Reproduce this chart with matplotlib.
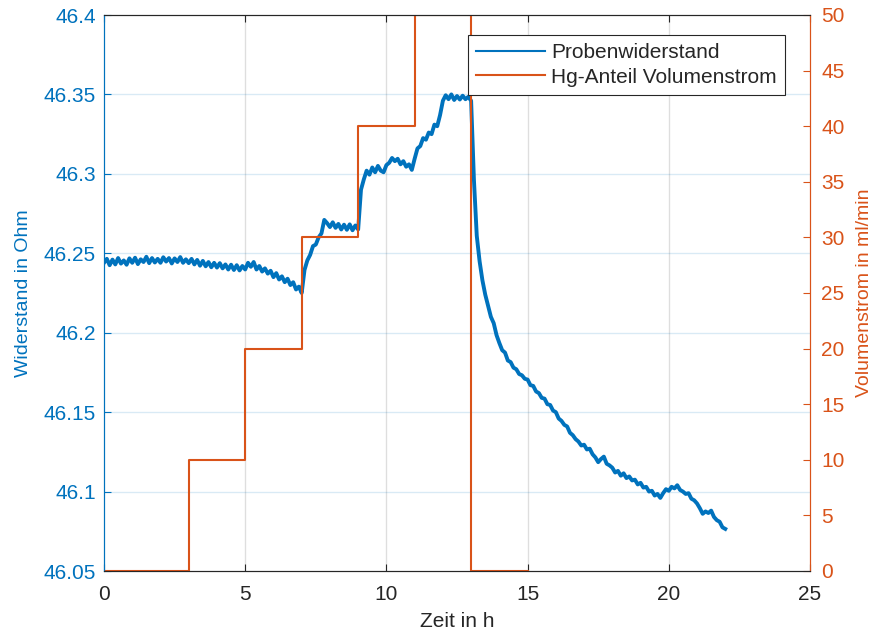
import numpy as np
import matplotlib
matplotlib.use("Agg")
import matplotlib.pyplot as plt

plt.rcParams['font.family'] = ['Liberation Sans', 'DejaVu Sans']

# Probenwiderstand (Ohm), sampled every 0.1 h from 0 to 22 h
resistance = [
    46.2440, 46.2465, 46.2425, 46.2460, 46.2430, 46.2470, 46.2435, 46.2455, 46.2428, 46.2468,
    46.2440, 46.2472, 46.2432, 46.2462, 46.2445, 46.2478, 46.2438, 46.2470, 46.2442, 46.2465,
    46.2440, 46.2475, 46.2448, 46.2470, 46.2436, 46.2468, 46.2445, 46.2476, 46.2440, 46.2462,
    46.2438, 46.2465, 46.2430, 46.2458, 46.2422, 46.2452, 46.2418, 46.2445, 46.2412, 46.2440,
    46.2410, 46.2438, 46.2405, 46.2430, 46.2398, 46.2428, 46.2395, 46.2425, 46.2392, 46.2420,
    46.2398, 46.2440, 46.2415, 46.2445, 46.2398, 46.2420, 46.2385, 46.2405, 46.2372, 46.2390,
    46.2350, 46.2375, 46.2335, 46.2355, 46.2318, 46.2340, 46.2300, 46.2318, 46.2272, 46.2290,
    46.2250, 46.2395, 46.2455, 46.2490, 46.2545, 46.2555, 46.2600, 46.2625, 46.2710, 46.2690,
    46.2665, 46.2695, 46.2660, 46.2685, 46.2650, 46.2680, 46.2648, 46.2682, 46.2645, 46.2675,
    46.2650, 46.2900, 46.2965, 46.3020, 46.2995, 46.3040, 46.3010, 46.3050, 46.3020, 46.3010,
    46.3055, 46.3070, 46.3100, 46.3080, 46.3095, 46.3060, 46.3080, 46.3045, 46.3060, 46.3025,
    46.3095, 46.3160, 46.3175, 46.3225, 46.3215, 46.3260, 46.3250, 46.3310, 46.3300, 46.3370,
    46.3460, 46.3495, 46.3470, 46.3500, 46.3465, 46.3490, 46.3468, 46.3492, 46.3470, 46.3485,
    46.3460, 46.2960, 46.2610, 46.2450, 46.2330, 46.2240, 46.2170, 46.2100, 46.2060, 46.1985,
    46.1935, 46.1890, 46.1875, 46.1825, 46.1815, 46.1780, 46.1770, 46.1740, 46.1732, 46.1710,
    46.1705, 46.1670, 46.1665, 46.1630, 46.1620, 46.1590, 46.1585, 46.1550, 46.1545, 46.1510,
    46.1500, 46.1460, 46.1445, 46.1420, 46.1410, 46.1370, 46.1355, 46.1330, 46.1315, 46.1290,
    46.1295, 46.1265, 46.1270, 46.1235, 46.1215, 46.1185, 46.1205, 46.1220, 46.1175, 46.1165,
    46.1150, 46.1120, 46.1130, 46.1100, 46.1115, 46.1085, 46.1095, 46.1070, 46.1075, 46.1045,
    46.1055, 46.1025, 46.1030, 46.1000, 46.1005, 46.0975, 46.0985, 46.0960, 46.0990, 46.1015,
    46.1005, 46.1030, 46.1020, 46.1040, 46.1010, 46.1000, 46.0985, 46.0990, 46.0955, 46.0945,
    46.0925, 46.0895, 46.0860, 46.0875, 46.0865, 46.0880, 46.0840, 46.0820, 46.0810, 46.0775,
    46.0765,
]
time_res = np.round(np.arange(len(resistance)) * 0.1, 1)

# Hg-Anteil Volumenstrom (ml/min), step changes
flow_time = [0, 3, 5, 7, 9, 11, 13, 15]
flow_value = [0, 10, 20, 30, 40, 50, 0, 0]

x_ticks = [0, 5, 10, 15, 20, 25]
y_ticks = [46.05, 46.1, 46.15, 46.2, 46.25, 46.3, 46.35, 46.4]
y_tick_labels = ['46.05', '46.1', '46.15', '46.2', '46.25', '46.3', '46.35', '46.4']
y2_ticks = [0, 5, 10, 15, 20, 25, 30, 35, 40, 45, 50]

BLUE = '#0072BD'
ORANGE = '#D95319'
DARK = '#262626'

fig = plt.figure(figsize=(8.75, 6.37), dpi=100)
ax = fig.add_axes([104/875, 1-571/637, 706/875, 556/637])
ax2 = ax.twinx()

lb, = ax.plot(time_res, resistance, color=BLUE, lw=2.8, solid_joinstyle='round',
              label='Probenwiderstand')
lo, = ax2.plot(flow_time, flow_value, color=ORANGE, lw=1.5, drawstyle='steps-post',
               label='Hg-Anteil Volumenstrom')

ax.set_xlim(0, 25)
ax.set_ylim(46.05, 46.4)
ax2.set_ylim(0, 50)
ax.set_xticks(x_ticks)
ax.set_yticks(y_ticks)
ax.set_yticklabels(y_tick_labels)
ax2.set_yticks(y2_ticks)

# grid
for xv in x_ticks[1:-1]:
    ax.axvline(xv, color=DARK, alpha=0.15, lw=1, zorder=0)
for yv in y_ticks[1:-1]:
    ax.axhline(yv, color=BLUE, alpha=0.15, lw=1, zorder=0)

fs_tick = 15
fs = 14
ax.tick_params(axis='x', direction='in', top=True, length=5, labelsize=fs_tick,
               colors=DARK, width=0.8, pad=10)
ax.tick_params(axis='y', direction='in', length=5, labelsize=fs_tick, colors=BLUE,
               width=0.8, pad=6)
ax2.tick_params(axis='y', direction='in', length=5, labelsize=fs_tick, colors=ORANGE,
                width=0.8, pad=8)

for a in (ax, ax2):
    a.spines['left'].set_color(BLUE)
    a.spines['right'].set_color(ORANGE)
    a.spines['top'].set_color(DARK)
    a.spines['bottom'].set_color(DARK)
    for s in a.spines.values():
        s.set_linewidth(0.8)

ax.set_xlabel('Zeit in h', fontsize=fs_tick, color=DARK, labelpad=6)
ax.set_ylabel('Widerstand in Ohm', fontsize=fs, color=BLUE, labelpad=8)
ax2.set_ylabel('Volumenstrom in ml/min', fontsize=fs, color=ORANGE, labelpad=8)

leg = ax2.legend(handles=[lb, lo], loc='upper right',
                 bbox_to_anchor=(0.9646, 0.964), fontsize=15, frameon=True,
                 fancybox=False, edgecolor=DARK, framealpha=1,
                 handlelength=3.3, borderpad=0.4, labelspacing=0.25,
                 handletextpad=0.3, borderaxespad=0)
leg.get_frame().set_linewidth(0.8)
for line in leg.get_lines():
    line.set_linewidth(1.5)
for t in leg.get_texts():
    t.set_color(DARK)

fig.savefig('out.png', dpi=100)
